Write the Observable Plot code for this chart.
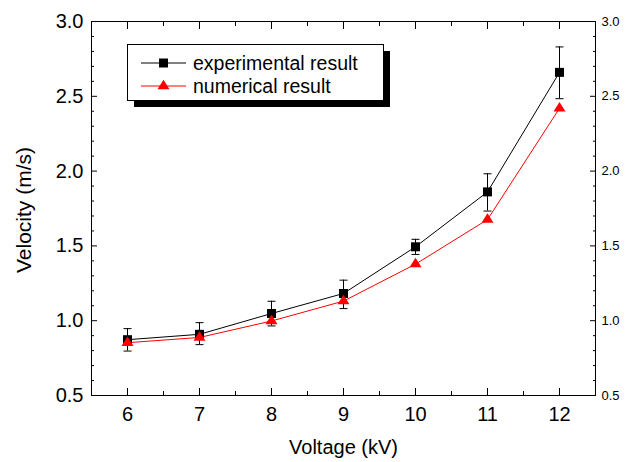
<!DOCTYPE html>
<html>
<head>
<meta charset="utf-8">
<script src="https://cdn.jsdelivr.net/npm/d3@7"></script>
<script src="https://cdn.jsdelivr.net/npm/@observablehq/plot@0.6"></script>
<style>
  html, body { margin: 0; padding: 0; background: #fff; }
  #chart { position: relative; width: 638px; height: 462px; }
</style>
</head>
<body>
<div id="chart"></div>
<script>
// ---- data ----
const voltage = [6, 7, 8, 9, 10, 11, 12];
const experimental = [0.873, 0.909, 1.048, 1.182, 1.494, 1.861, 2.66];
const expLow  = [0.797, 0.840, 0.965, 1.081, 1.443, 1.733, 2.484];
const expHigh = [0.947, 0.987, 1.130, 1.271, 1.544, 1.982, 2.830];
const numerical = [0.853, 0.888, 0.998, 1.131, 1.378, 1.676, 2.42];

const xMajor = [6, 7, 8, 9, 10, 11, 12];
const xMinor = [5.5, 6.5, 7.5, 8.5, 9.5, 10.5, 11.5, 12.5];
const yMajor = [0.5, 1.0, 1.5, 2.0, 2.5, 3.0];
const yMinor = [0.6, 0.7, 0.8, 0.9, 1.1, 1.2, 1.3, 1.4, 1.6, 1.7, 1.8, 1.9, 2.1, 2.2, 2.3, 2.4, 2.6, 2.7, 2.8, 2.9];
const legendLabels = ["experimental result", "numerical result"];

const expData = voltage.map((v, i) => ({x: v, y: experimental[i], lo: expLow[i], hi: expHigh[i]}));
const numData = voltage.map((v, i) => ({x: v, y: numerical[i]}));

const FONT = "Liberation Sans, Arial, sans-serif";
const capSymbol = { draw(ctx) { ctx.moveTo(-4, 0); ctx.lineTo(4, 0); } };
const squareSymbol = { draw(ctx) { ctx.rect(-4.5, -4.5, 9, 9); } };
const triSymbol = { draw(ctx) { ctx.moveTo(0, -6.3); ctx.lineTo(6, 3.2); ctx.lineTo(-6, 3.2); ctx.closePath(); } };

const fmt = d3.format(".1f");

const plot = Plot.plot({
  width: 638,
  height: 462,
  marginLeft: 91,
  marginRight: 43,
  marginTop: 21,
  marginBottom: 67,
  style: { fontFamily: FONT, background: "#fff", overflow: "visible" },
  x: { domain: [5.5, 12.5] },
  y: { domain: [0.5, 3.0] },
  marks: [
    // ticks (inward)
    Plot.axisX(xMajor, { anchor: "bottom", tickSize: -7, tickFormat: () => "", label: null }),
    Plot.axisX(xMinor, { anchor: "bottom", tickSize: -4, tickFormat: () => "", label: null }),
    Plot.axisX(xMajor, { anchor: "top", tickSize: -7, tickFormat: () => "", label: null }),
    Plot.axisX(xMinor, { anchor: "top", tickSize: -4, tickFormat: () => "", label: null }),
    Plot.axisY(yMajor, { anchor: "left", tickSize: -6, tickFormat: () => "", label: null }),
    Plot.axisY(yMinor, { anchor: "left", tickSize: -3, tickFormat: () => "", label: null }),
    Plot.axisY(yMajor, { anchor: "right", tickSize: -6, tickFormat: () => "", label: null }),
    Plot.axisY(yMinor, { anchor: "right", tickSize: -3, tickFormat: () => "", label: null }),
    // labels
    Plot.axisX(xMajor, { anchor: "bottom", tickSize: 0, tickPadding: 11, fontSize: 20, label: "Voltage (kV)", labelAnchor: "center", labelOffset: 58, labelArrow: "none" }),
    Plot.axisY(yMajor, { anchor: "left", tickSize: 0, tickPadding: 8, fontSize: 20, tickFormat: fmt, label: null }),
    Plot.axisY(yMajor, { anchor: "right", tickSize: 0, tickPadding: 6, fontSize: 13, tickFormat: fmt, label: null }),
    Plot.frame({ stroke: "#000", strokeWidth: 1 }),
    // error bars
    Plot.ruleX(expData, { x: "x", y1: "lo", y2: "hi", stroke: "#000", strokeWidth: 1 }),
    Plot.dot(expData, { x: "x", y: "hi", symbol: capSymbol, stroke: "#000", strokeWidth: 1, r: 4 }),
    Plot.dot(expData, { x: "x", y: "lo", symbol: capSymbol, stroke: "#000", strokeWidth: 1, r: 4 }),
    // lines
    Plot.line(numData, { x: "x", y: "y", stroke: "#ff0000", strokeWidth: 1 }),
    Plot.line(expData, { x: "x", y: "y", stroke: "#000", strokeWidth: 1 }),
    Plot.dot(expData, { x: "x", y: "y", symbol: squareSymbol, fill: "#000", stroke: "none", r: 5 }),
    Plot.dot(numData, { x: "x", y: "y", symbol: triSymbol, fill: "#ff0000", stroke: "none", r: 5 })
  ]
});

document.getElementById("chart").appendChild(plot);

const svg = d3.select(plot);
// y axis title
svg.append("text")
  .attr("transform", "translate(31,210) rotate(-90)")
  .attr("text-anchor", "middle")
  .attr("font-family", FONT)
  .attr("font-size", 21)
  .attr("fill", "#000")
  .text("Velocity (m/s)");

// legend
const lg = svg.append("g").attr("font-family", FONT).attr("text-anchor", "start");
lg.append("rect").attr("x", 134).attr("y", 51).attr("width", 256).attr("height", 56).attr("fill", "#000");
lg.append("rect").attr("x", 127.5).attr("y", 44.5).attr("width", 256).attr("height", 56).attr("fill", "#fff").attr("stroke", "#000").attr("stroke-width", 1);
const rows = [
  { label: legendLabels[0], color: "#000", sym: squareSymbol, y: 63 },
  { label: legendLabels[1], color: "#ff0000", sym: triSymbol, y: 86 }
];
rows.forEach(r => {
  lg.append("line").attr("x1", 141).attr("x2", 186).attr("y1", r.y).attr("y2", r.y).attr("stroke", r.color).attr("stroke-width", 1);
  lg.append("path").attr("d", d3.symbol(r.sym)()).attr("transform", `translate(163.5,${r.y})`).attr("fill", r.color);
  lg.append("text").attr("x", 193).attr("y", r.y).attr("dy", "0.35em").attr("text-anchor", "start").attr("font-size", 19.5).attr("fill", "#000").text(r.label);
});
</script>
</body>
</html>
